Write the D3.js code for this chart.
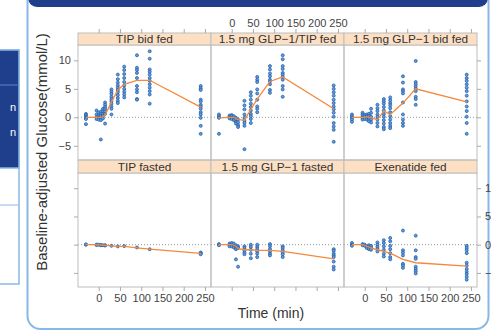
<!DOCTYPE html>
<html><head><meta charset="utf-8">
<script src="https://cdn.jsdelivr.net/npm/d3@7"></script>
<style>html,body{margin:0;padding:0;background:#fff;overflow:hidden}svg{display:block;font-family:"Liberation Sans",Arial,sans-serif}</style>
</head><body><svg id="c" width="491" height="333"></svg>
<script>
const panelNames = ["TIP fasted","1.5 mg GLP\u22121 fasted","Exenatide fed","TIP bid fed","1.5 mg GLP\u22121/TIP fed","1.5 mg GLP\u22121 bid fed"];
const times = [-30,-5,0,5,10,15,30,45,60,90,120,240];
const xTicks = [0,50,100,150,200,250];
const yTicks = [-5,0,5,10];

const tipFasted = [[0,0.05],[0,-0.05],[0],[-0.05,-0.1],[-0.1],[-0.1,-0.15],[-0.2],[-0.3],[-0.25],[-0.5],[-0.8],[-1.4,-1.5,-1.7]];
const tipFastedMean = [0,0,-0.02,-0.05,-0.1,-0.1,-0.2,-0.3,-0.3,-0.55,-0.8,-1.55];

const glpFasted = [[0.1,-0.1],[0.2,-0.1,-0.3],[0.3,0,-0.3],[0.2,-0.2,-0.5],[-0.1,-0.4,-0.8,-2.6],[-0.3,-0.6,-3.9],[-0.3,-0.6,-1.0,-1.4,-1.7],[0,-0.4,-0.9,-1.6,-2.4],[0,-0.4,-0.8,-1.2,-1.6,-2.2],[0.1,-0.3,-0.8,-1.2,-1.6,-1.9],[-0.3,-0.6,-1.0,-1.4,-1.7,-2.2],[-0.8,-1.1,-1.6,-1.9,-2.2,-3.0,-3.9,-4.4]];
const glpFastedMean = [0,0,0,-0.1,-0.3,-0.7,-0.9,-0.9,-1.0,-1.0,-1.2,-2.5];

const exenatideFed = [[0.3,0,-0.2],[0.1,-0.1],[0,-0.2],[-0.3,-0.6],[-0.1,-0.4,-0.8],[-0.2,-0.5,-0.9],[0.4,0,-0.4,-0.8,-1.2],[0.8,0.3,-0.3,-0.9,-1.6,-2.1],[1.2,0.6,-0.2,-0.8,-1.5,-2.2,-2.6],[2.5,-1.0,-1.4,-1.9,-3.4,-3.7,-4.1],[1.6,-1.0,-2.2,-2.5,-3.9,-4.3,-4.7,-5.1],[-0.2,-0.6,-1.0,-1.5,-3.2,-3.7,-4.3,-4.8,-5.2,-5.7,-6.2]];
const exenatideFedMean = [0,0,-0.1,-0.3,-0.4,-0.6,-0.9,-1.2,-1.5,-2.6,-3.2,-3.8];

const tipBidFed = [[0.6,0.4,0.1,-0.1,-0.3,-1.2],[1.2,0.5,0,-0.3],[0.8,0.3,0,-0.2,-0.4],[1.0,0.5,0.2,-0.3,-0.5,-3.9],[1.5,1.0,0.6,0.2,-0.2],[2.6,2.2,1.8,1.4,1.0,0.6,-1.1],[4.9,4.5,4.1,3.6,3.2,2.8,2.4,1.9,1.5,0.5],[7.5,6.7,6.1,5.6,5.2,4.8,4.4,3.9,3.4,2.9,2.5],[8.9,8.3,7.6,6.9,6.2,5.6,5.0,4.5,4.0,3.5],[10.9,8.7,8.3,7.8,6.9,5.5,4.9,4.4,3.2,3.1],[11.6,10.3,8.4,8.0,7.5,6.9,6.4,5.8,5.2,4.6,4.0,2.4],[5.5,5.1,4.8,3.1,2.8,2.2,1.9,1.5,0.9,0.5,-0.1,-1.5,-2.9]];
const tipBidFedMean = [0,0,0,0,0.1,0.4,2.7,4.8,5.8,6.5,6.5,1.8];

const glpTipFed = [[0.5,0.2,-0.1,-2.9],[0.3,0.1,-0.2],[0.4,0.2,-0.1,-0.3],[0.2,-0.2,-0.5],[-0.1,-0.4,-0.8,-1.1],[-0.4,-0.9,-1.4,-1.7],[2.9,2.1,1.4,0.5,-0.1,-0.6,-1.0,-1.5,-5.6],[4.4,3.8,3.1,2.4,1.8,1.2,0.6,0.2,-0.3,-1.0],[7.1,6.6,6.2,4.9,4.2,3.1,1.9,1.5,0.9],[9.0,8.4,7.7,7.2,6.6,6.3,5.8,4.8,4.3],[10.9,10.2,9.0,8.5,7.8,7.5,7.1,6.6,5.5,4.9,3.6],[5.6,5.0,4.4,3.8,3.1,2.5,1.9,1.4,0.8,0.1,-1.0,-1.6,-2.2,-4.3]];
const glpTipFedMean = [-0.1,0,0,0,-0.2,-0.4,-0.5,1.4,3.2,6.3,7.1,1.5];

const glpBidFed = [[0.5,0.2,-0.1,-0.4,-0.8],[0.8,0.5,0.2,-0.1,-0.4],[0.4,0.1,-0.3],[0.5,0.2,-0.1,-0.4],[0.6,0.2,-0.3,-0.7],[1.5,0.8,0.1,-0.4,-0.9],[2.2,1.6,1.1,0.5,0.1,-0.4,-1.0,-1.6],[3.2,2.8,2.4,1.8,1.2,0.6,0.1,-0.5,-1.1,-1.7,-2.1],[3.5,3.0,2.5,2.1,1.6,0.9,0.2,-0.4,-1.0,-1.5,-1.9],[7.2,6.1,4.9,4.6,4.2,2.6,0.5,-0.4,-1.0,-1.5],[9.9,6.2,5.8,5.4,5.0,4.6,3.6,3.2,2.2],[7.5,6.9,6.4,5.8,5.2,4.6,3.8,2.8,1.9,1.1,0.1,-1.0,-2.9]];
const glpBidFedMean = [0,0,0,0.1,0,-0.1,-0.4,1.1,0.5,2.5,5.0,2.7];

const panelValues = [tipFasted, glpFasted, exenatideFed, tipBidFed, glpTipFed, glpBidFed];
const panelMeans = [tipFastedMean, glpFastedMean, exenatideFedMean, tipBidFedMean, glpTipFedMean, glpBidFedMean];

const svg = d3.select("#c");
const BL = "#8ab8e6", DARK = "#1f3e8c";

// page furniture (cropped screenshot context)
svg.append("rect").attr("x",-5).attr("y",50).attr("width",24).attr("height",234).attr("fill","#fff").attr("stroke",BL).attr("stroke-width",1.5);
svg.append("rect").attr("x",-5).attr("y",50).attr("width",24).attr("height",118).attr("fill",DARK).attr("stroke",BL).attr("stroke-width",1.5);
svg.append("line").attr("x1",-5).attr("x2",19).attr("y1",85).attr("y2",85).attr("stroke","#5f82c8").attr("stroke-width",1);
svg.append("line").attr("x1",-5).attr("x2",19).attr("y1",205).attr("y2",205).attr("stroke",BL).attr("stroke-width",1);
svg.append("text").attr("x",16).attr("y",111).attr("text-anchor","end").attr("fill","#fff").attr("font-size",11).text("n");
svg.append("text").attr("x",16).attr("y",136).attr("text-anchor","end").attr("fill","#fff").attr("font-size",11).text("n");

svg.append("rect").attr("x",28).attr("y",-30).attr("width",460).attr("height",37).attr("rx",9).attr("fill",DARK);
svg.append("rect").attr("x",27.5).attr("y",-30).attr("width",461).attr("height",359).attr("rx",13).attr("fill","none").attr("stroke",BL).attr("stroke-width",2);

// lattice layout
const colLeft = [78,211,344], colW = 133;
const rows = [{top:173,bottom:287,strip:160},{top:45,bottom:160,strip:33}]; // row 0 = bottom, row 1 = top
const x = colLeft.map(l => d3.scaleLinear().domain([-48.7,264.2]).range([l,l+colW]));
const y = rows.map(r => d3.scaleLinear().domain([-7.5,12.7]).range([r.bottom,r.top]));

const TICK = "#aaa", LAB = "#444";
const g = svg.append("g");

panelNames.forEach((name,i) => {
  const c = i%3, r = Math.floor(i/3);
  const xs = x[c], ys = y[r], R = rows[r];
  const pg = g.append("g");
  pg.append("line").attr("x1",colLeft[c]).attr("x2",colLeft[c]+colW).attr("y1",ys(0)).attr("y2",ys(0))
    .attr("stroke","#999").attr("stroke-width",1).attr("stroke-dasharray","1,2");
  const pts = [];
  panelValues[i].forEach((vals,k) => vals.forEach(v => pts.push([times[k],v])));
  pg.selectAll("circle").data(pts).enter().append("circle")
    .attr("cx",d=>xs(d[0])).attr("cy",d=>ys(d[1])).attr("r",1.5)
    .attr("fill","#6a9ad4").attr("stroke","#2162b0").attr("stroke-width",0.8);
  pg.append("path").datum(panelMeans[i].map((m,k)=>[times[k],m]))
    .attr("d",d3.line().x(d=>xs(d[0])).y(d=>ys(d[1])))
    .attr("fill","none").attr("stroke","#f4883c").attr("stroke-width",1.3);
  pg.append("rect").attr("x",colLeft[c]).attr("y",R.top).attr("width",colW).attr("height",R.bottom-R.top)
    .attr("fill","none").attr("stroke","#bdbdbd").attr("stroke-width",1);
  pg.append("rect").attr("x",colLeft[c]).attr("y",R.strip).attr("width",colW).attr("height",R.top-R.strip)
    .attr("fill","#fde0c4").attr("stroke","#bdbdbd").attr("stroke-width",1);
  pg.append("text").attr("x",colLeft[c]+colW/2).attr("y",R.top-2.3).attr("text-anchor","middle")
    .attr("font-size",11.8).attr("fill","#333").text(name);
});

function styleAxis(sel){
  sel.select(".domain").remove();
  sel.selectAll(".tick line").attr("stroke",TICK);
  sel.selectAll(".tick text").attr("fill",LAB).attr("font-size",11).attr("font-family","Liberation Sans, Arial, sans-serif");
}
[0,1,2].forEach(c => {
  const a = d3.axisTop(x[c]).tickValues(xTicks).tickSize(4).tickPadding(2).tickFormat(c===1 ? d3.format("d") : "");
  svg.append("g").attr("transform",`translate(0,${rows[1].strip})`).call(a).call(styleAxis);
  const b = d3.axisBottom(x[c]).tickValues(xTicks).tickSize(4).tickPadding(3).tickFormat(c!==1 ? d3.format("d") : "");
  svg.append("g").attr("transform",`translate(0,${rows[0].bottom})`).call(b).call(styleAxis);
});
const fmtY = d => d < 0 ? "\u2212" + Math.abs(d) : String(d);
svg.append("g").attr("transform",`translate(${colLeft[0]},0)`).call(d3.axisLeft(y[1]).tickValues(yTicks).tickSize(4).tickPadding(3).tickFormat(fmtY)).call(styleAxis);
svg.append("g").attr("transform",`translate(${colLeft[0]},0)`).call(d3.axisLeft(y[0]).tickValues(yTicks).tickSize(4).tickFormat("")).call(styleAxis);
const rx = colLeft[2]+colW;
svg.append("g").attr("transform",`translate(${rx},0)`).call(d3.axisRight(y[1]).tickValues(yTicks).tickSize(4).tickFormat("")).call(styleAxis);
svg.append("g").attr("transform",`translate(${rx},0)`).call(d3.axisRight(y[0]).tickValues(yTicks).tickSize(4).tickPadding(4).tickFormat(fmtY)).call(styleAxis);

svg.append("text").attr("x",271).attr("y",318).attr("text-anchor","middle").attr("font-size",14).attr("fill","#333").text("Time (min)");
svg.append("text").attr("transform","translate(47,152) rotate(-90)").attr("text-anchor","middle").attr("font-size",15).attr("fill","#333").text("Baseline-adjusted Glucose(mmol/L)");
</script></body></html>
